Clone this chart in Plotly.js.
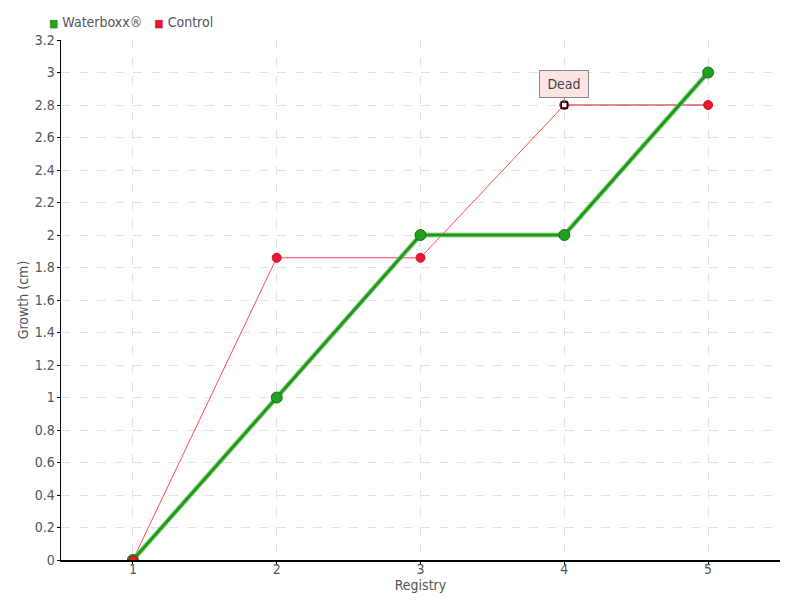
<!DOCTYPE html>
<html>
<head>
<meta charset="utf-8">
<script src="https://cdn.plot.ly/plotly-3.0.1.min.js"></script>
<style>html,body{margin:0;padding:0;background:#fff;}#chart{width:800px;height:600px;}</style>
</head>
<body>
<div id="chart"></div>
<script>
const registry = [1, 2, 3, 4, 5];
const waterboxx = [0, 1, 2, 2, 3];
const control = [0, 1.86, 1.86, 2.8, 2.8];
const deadIndex = 3;
const yTicks = [0, 0.2, 0.4, 0.6, 0.8, 1, 1.2, 1.4, 1.6, 1.8, 2, 2.2, 2.4, 2.6, 2.8, 3, 3.2];
const seriesNames = ['Waterboxx®', 'Control'];

const FONT = "'DejaVu Sans Condensed', 'Liberation Sans Narrow', sans-serif";
const green = '#22a022';
const red = '#e8192c';

const ctrlAliveX = registry.slice(0, deadIndex + 1);
const ctrlAliveY = control.slice(0, deadIndex + 1);
const ctrlDeadX = registry.slice(deadIndex);
const ctrlDeadY = control.slice(deadIndex);

const traces = [
  { x: ctrlAliveX, y: ctrlAliveY, mode: 'lines', line: {color: '#ff4654', width: 1}, hoverinfo: 'skip' },
  { x: ctrlDeadX, y: ctrlDeadY, mode: 'lines', line: {color: '#c8101c', width: 1}, hoverinfo: 'skip' },
  { x: registry, y: control, mode: 'markers', name: seriesNames[1], marker: {color: red, size: 9, line: {color: '#d01020', width: 1}} },
  { x: [registry[deadIndex]], y: [control[deadIndex]], mode: 'markers', marker: {symbol: 'square', color: '#ffffff', size: 6, line: {color: '#000', width: 1.5}} },
  { x: registry, y: waterboxx, mode: 'lines', line: {color: 'rgba(120,200,110,0.7)', width: 5}, hoverinfo: 'skip' },
  { x: registry, y: waterboxx, mode: 'lines+markers', name: seriesNames[0], line: {color: '#1f9a1a', width: 3}, marker: {color: green, size: 11, line: {color: '#1a6e1a', width: 1}} },
  { x: [registry[0]], y: [control[0]], mode: 'markers', marker: {color: red, size: 8, line: {color: '#b01018', width: 1}} }
];

const legendText =
  '<span style="color:' + green + ';font-size:11px">■</span>&nbsp;' + seriesNames[0] +
  '&nbsp;&nbsp;&nbsp;<span style="color:' + red + ';font-size:11px">■</span>&nbsp;' + seriesNames[1];

const layout = {
  width: 800, height: 600,
  margin: {l: 61, r: 20, t: 40, b: 40},
  paper_bgcolor: '#fff', plot_bgcolor: '#fff',
  font: {family: FONT, size: 14, color: '#555'},
  showlegend: false,
  xaxis: {
    range: [0.5, 5.5], tickvals: registry, ticktext: registry.map(String),
    showgrid: true, gridcolor: '#e2e2e2', griddash: 'dash', gridwidth: 1,
    showline: true, linecolor: '#000', linewidth: 1.5, zeroline: false,
    ticks: 'outside', ticklen: 3, tickcolor: '#000', tickwidth: 1, ticklabelstandoff: -7,
    title: {text: 'Registry', standoff: 0, font: {family: FONT, size: 14, color: '#555'}},
    fixedrange: true
  },
  yaxis: {
    range: [0, 3.2], tickvals: yTicks, ticktext: yTicks.map(String),
    showgrid: true, gridcolor: '#e2e2e2', griddash: 'dash', gridwidth: 1,
    showline: true, linecolor: '#000', linewidth: 1.5, zeroline: false,
    ticks: 'outside', ticklen: 3, tickcolor: '#000', tickwidth: 1, ticklabelstandoff: -1,
    title: {text: 'Growth (cm)', standoff: 3, font: {family: FONT, size: 14, color: '#555'}},
    fixedrange: true
  },
  annotations: [{
    x: registry[deadIndex], y: control[deadIndex], xref: 'x', yref: 'y',
    text: 'Dead', showarrow: true, arrowhead: 0, arrowwidth: 1, arrowcolor: '#888',
    ax: 0, ay: -21, bgcolor: '#fde4e4', bordercolor: '#888', borderwidth: 1, borderpad: 5,
    width: 38, font: {family: FONT, size: 14, color: '#444'}, standoff: 3
  }, {
    xref: 'paper', yref: 'paper', x: -0.02, y: 1.0346, xanchor: 'left', yanchor: 'middle',
    text: legendText, showarrow: false, font: {family: FONT, size: 14, color: '#555'}
  }]
};

Plotly.newPlot('chart', traces, layout, {displayModeBar: false, staticPlot: true});
</script>
</body>
</html>
